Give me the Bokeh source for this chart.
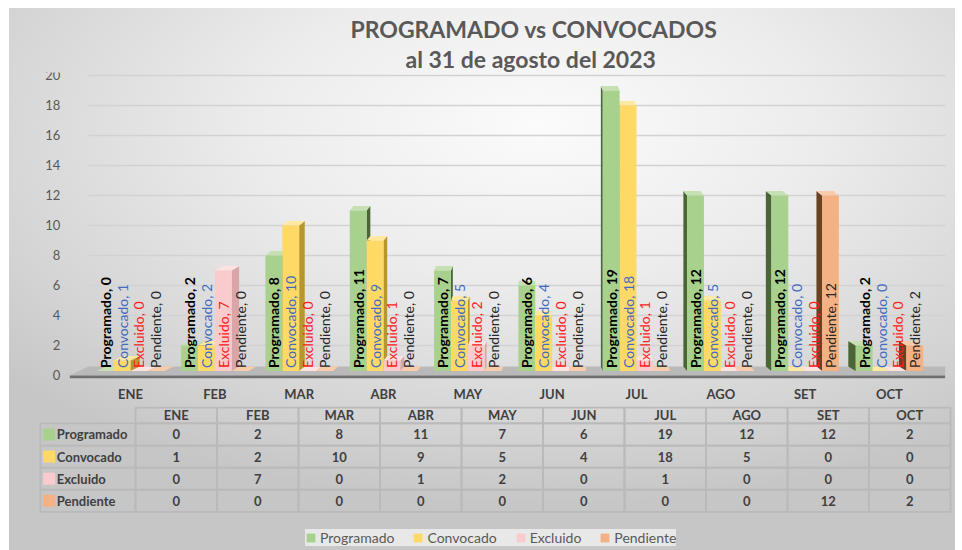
import math
from bokeh.plotting import figure
from bokeh.models import (Range1d, FixedTicker, ColumnDataSource, Legend, LegendItem,
                          Title, LinearAxis, Grid)
from bokeh.core.properties import value
from bokeh.embed import file_html
from bokeh.resources import INLINE

# ---------------- data ----------------
MONTHS = ["ENE", "FEB", "MAR", "ABR", "MAY", "JUN", "JUL", "AGO", "SET", "OCT"]
SERIES = ["Programado", "Convocado", "Excluido", "Pendiente"]
PROGRAMADO = [0, 2, 8, 11, 7, 6, 19, 12, 12, 2]
CONVOCADO = [1, 2, 10, 9, 5, 4, 18, 5, 0, 0]
EXCLUIDO = [0, 7, 0, 1, 2, 0, 1, 0, 0, 0]
PENDIENTE = [0, 0, 0, 0, 0, 0, 0, 0, 12, 2]
Y_TICKS = [0, 2, 4, 6, 8, 10, 12, 14, 16, 18, 20]
TITLE_1 = "PROGRAMADO vs CONVOCADOS"
TITLE_2 = "al 31 de agosto del 2023"

VALUES = [PROGRAMADO, CONVOCADO, EXCLUIDO, PENDIENTE]

# ---------------- styles ----------------
FONT = "Lato"
FRONT = ["#A9D18E", "#FFD966", "#F9CBCC", "#F4B183"]
SIDE = ["#4A6636", "#B8962E", "#D9A5A6", "#6A4222"]
TOP = ["#C6E0B3", "#FFE8A0", "#FDE2E2", "#F8CBAB"]
LABEL_COLORS = ["#000000", "#3F6CC0", "#FF1A1A", "#262626"]
LABEL_STYLES = ["bold", "normal", "normal", "normal"]
TEXT_DARK = "#404040"
GRID = "#d2d2d2"

n = len(MONTHS)
BAR_W = 0.2
BASE = 0.3
DZ = 0.3
LABEL_Y = 0.5

W, H = 946, 542
TOP_BORDER = 64

p = figure(width=W, height=H,
           x_range=Range1d(-1.435, 9.783), y_range=Range1d(-11.667, 20.2),
           output_backend="svg", toolbar_location=None, title=None,
           min_border_left=0, min_border_right=0, min_border_bottom=0,
           min_border_top=TOP_BORDER,
           x_axis_location=None, y_axis_location=None)
p.margin = (8, 0, 0, 9)
p.styles = {"background": "radial-gradient(ellipse 75% 70% at 56% 22%, #fbfbfb 0%, #ececec 40%, #d4d4d4 80%, #c6c6c6 100%)"}
p.background_fill_color = None
p.border_fill_color = None
p.outline_line_color = None
# drop the default grids
p.center = [r for r in p.center if not isinstance(r, Grid)]

p.extra_x_ranges = {"tbl": Range1d(-1.546, 10.061)}
p.extra_y_ranges = {"tbl": Range1d(6.249, -15.38)}

# titles (second line first: stacked outward from the frame)
for txt, off in [(TITLE_2, 396), (TITLE_1, 341)]:
    p.add_layout(Title(text=txt, align="left", offset=off, text_font=FONT,
                       text_font_size="23px", text_font_style="bold",
                       text_color="#595959", standoff=0), "above")

# axes (fixed inside the frame)
yaxis = LinearAxis(ticker=FixedTicker(ticks=Y_TICKS), fixed_location=-0.5)
yaxis.axis_line_color = None
yaxis.major_tick_line_color = None
yaxis.minor_tick_line_color = None
yaxis.major_tick_out = 0
yaxis.major_tick_in = 0
yaxis.major_label_standoff = 28
yaxis.major_label_text_font = FONT
yaxis.major_label_text_font_size = "13px"
yaxis.major_label_text_color = "#595959"
p.add_layout(yaxis, "left")

xaxis = LinearAxis(ticker=FixedTicker(ticks=list(range(n))), fixed_location=-0.33)
xaxis.major_label_overrides = {i: m for i, m in enumerate(MONTHS)}
xaxis.axis_line_color = None
xaxis.major_tick_line_color = None
xaxis.minor_tick_line_color = None
xaxis.major_tick_out = 0
xaxis.major_tick_in = 0
xaxis.major_label_standoff = 6
xaxis.major_label_text_font = FONT
xaxis.major_label_text_font_size = "13px"
xaxis.major_label_text_font_style = "bold"
xaxis.major_label_text_color = TEXT_DARK
p.add_layout(xaxis, "below")

# horizontal grid lines limited to the plotting wall
grid = Grid(dimension=1, ticker=FixedTicker(ticks=Y_TICKS),
            grid_line_color=GRID, grid_line_width=1.5)
grid.cross_bounds = (-0.5, n - 0.34)
p.add_layout(grid)

# floor
floor_src = ColumnDataSource(dict(
    xs=[[-0.72, n - 0.34, n - 0.34, -0.5], [-0.72, n - 0.34, n - 0.34, -0.72]],
    ys=[[0, 0, BASE + DZ, BASE + DZ], [-0.18, -0.18, 0, 0]],
    c=["#b9b9b9", "#6f6f6f"],
))
p.patches("xs", "ys", source=floor_src, fill_color="c", line_color=None)

# bars (front / side / top faces), ordered for pseudo 3D
xs, ys, cs = [], [], []
for i in range(n):
    d = (5 - i) * 0.022
    order = range(4) if d >= 0 else range(3, -1, -1)
    for k in order:
        v = VALUES[k][i]
        xc = i + (k - 1.5) * BAR_W
        xl, xr = xc - BAR_W / 2, xc + BAR_W / 2
        top = max(v, BASE)
        xe = xr if d >= 0 else xl
        xs.append([xe, xe + d, xe + d, xe]); ys.append([BASE, BASE + DZ, top + DZ, top]); cs.append(SIDE[k])
        xs.append([xl, xr, xr + d, xl + d]); ys.append([top, top, top + DZ, top + DZ]); cs.append(TOP[k])
        xs.append([xl, xr, xr, xl]); ys.append([BASE, BASE, top, top]); cs.append(FRONT[k])
bars_src = ColumnDataSource(dict(xs=xs, ys=ys, c=cs))
p.patches("xs", "ys", source=bars_src, fill_color="c", line_color=None)

# data labels
for k in range(4):
    src = ColumnDataSource(dict(
        x=[i + (k - 1.5) * BAR_W for i in range(n)],
        y=[LABEL_Y] * n,
        t=[f"{SERIES[k]}, {v}" for v in VALUES[k]],
    ))
    p.text("x", "y", text="t", source=src, angle=math.pi / 2,
           text_align="left", text_baseline="middle",
           text_font=value(FONT), text_font_size="14px",
           text_font_style=LABEL_STYLES[k], text_color=LABEL_COLORS[k])

# ---------------- data table ----------------
LABEL_LEFT = -1.166
SWATCH_X = -1.06
LABEL_TEXT_X = -0.965
HEADER_TOP = -0.22
T = dict(x_range_name="tbl", y_range_name="tbl")

cl, cr, ct, cb = [], [], [], []
for i in range(n):
    cl.append(i); cr.append(i + 1); ct.append(HEADER_TOP); cb.append(0.5)
for r in range(1, 5):
    cl.append(LABEL_LEFT); cr.append(0); ct.append(r - 0.5); cb.append(r + 0.5)
    for i in range(n):
        cl.append(i); cr.append(i + 1); ct.append(r - 0.5); cb.append(r + 0.5)
p.quad(left=cl, right=cr, top=ct, bottom=cb, fill_color=None,
       line_color="#bababa", line_width=1.8, **T)

p.text(x=[i + 0.5 for i in range(n)], y=[(HEADER_TOP + 0.5) / 2] * n, text=MONTHS,
       text_align="center", text_baseline="middle", text_font=value(FONT),
       text_font_size="13px", text_font_style="bold", text_color=TEXT_DARK, **T)

legend_items = []
for k in range(4):
    r = k + 1
    p.text(x=[i + 0.5 for i in range(n)], y=[r] * n, text=[str(v) for v in VALUES[k]],
           text_align="center", text_baseline="middle", text_font=value(FONT),
           text_font_size="13px", text_font_style="bold", text_color=TEXT_DARK, **T)
    p.text(x=[LABEL_TEXT_X], y=[r], text=[SERIES[k]],
           text_align="left", text_baseline="middle", text_font=value(FONT),
           text_font_size="13px", text_font_style="bold", text_color=TEXT_DARK, **T)
    sw = p.rect(x=[SWATCH_X], y=[r], width=12, height=12,
                width_units="screen", height_units="screen",
                fill_color=FRONT[k], line_color=None, **T)
    legend_items.append(LegendItem(label=SERIES[k], renderers=[sw]))

legend = Legend(items=legend_items, orientation="horizontal", location=(296, 4),
                background_fill_color="#ebebeb", background_fill_alpha=0.9,
                border_line_color=None, label_text_font=FONT,
                label_text_font_size="14px", label_text_color="#595959",
                glyph_width=11, glyph_height=11, spacing=18, padding=6,
                label_standoff=4, margin=0)
p.add_layout(legend)

open("out.html", "w").write(file_html(p, INLINE))
